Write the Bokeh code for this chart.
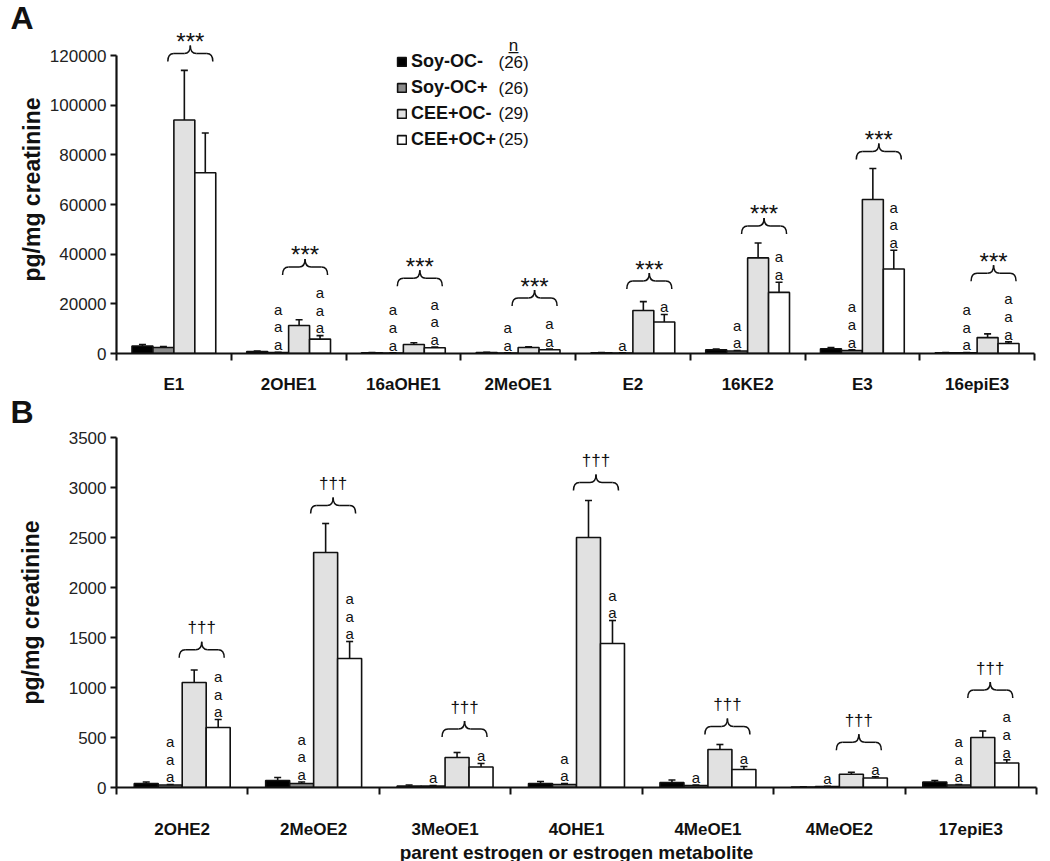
import numpy as np
from bokeh.plotting import figure
from bokeh.layouts import column
from bokeh.models import (FixedTicker, Label, Legend, LegendItem, Range1d,
                          BasicTickFormatter, Title)
from bokeh.core.properties import value
from bokeh.embed import file_html
from bokeh.resources import INLINE

FONT = "Liberation Sans"

# ---------------- data ----------------
group_names = ["Soy-OC-", "Soy-OC+", "CEE+OC-", "CEE+OC+"]
group_n = ["(26)", "(26)", "(29)", "(25)"]
group_colors = ["#000000", "#8c8c8c", "#e1e1e1", "#ffffff"]

# Panel A
cats_A = ["E1", "2OHE1", "16aOHE1", "2MeOE1", "E2", "16KE2", "E3", "16epiE3"]
soy_neg_A = [3000, 800, 300, 400, 300, 1500, 1900, 300]
soy_neg_A_sem = [600, 200, 100, 100, 100, 300, 500, 100]
soy_pos_A = [2400, 400, 200, 200, 200, 1000, 1200, 300]
soy_pos_A_sem = [400, 100, 50, 50, 50, 200, 300, 100]
cee_neg_A = [94000, 11300, 3600, 2400, 17300, 38500, 62000, 6400]
cee_neg_A_sem = [20000, 2300, 700, 300, 3600, 6000, 12500, 1500]
cee_pos_A = [72800, 5800, 2300, 1500, 12700, 24600, 34000, 4000]
cee_pos_A_sem = [16000, 1400, 300, 250, 3000, 4100, 7600, 700]
letters_soy_A = [0, 3, 3, 2, 1, 2, 3, 3]
letters_cee_A = [0, 3, 3, 2, 1, 2, 3, 3]
sig_A = "***"

# Panel B
cats_B = ["2OHE2", "2MeOE2", "3MeOE1", "4OHE1", "4MeOE1", "4MeOE2", "17epiE3"]
soy_neg_B = [40, 70, 15, 40, 50, 5, 55]
soy_neg_B_sem = [15, 30, 10, 20, 25, 3, 15]
soy_pos_B = [25, 40, 15, 30, 20, 10, 25]
soy_pos_B_sem = [5, 15, 5, 10, 5, 3, 5]
cee_neg_B = [1050, 2350, 300, 2500, 380, 133, 500]
cee_neg_B_sem = [125, 290, 50, 370, 50, 20, 65]
cee_pos_B = [600, 1290, 205, 1440, 180, 95, 245]
cee_pos_B_sem = [80, 170, 35, 230, 30, 12, 32]
letters_soy_B = [3, 3, 1, 2, 1, 1, 3]
letters_cee_B = [3, 3, 1, 2, 1, 1, 3]
sig_B = "\u2020\u2020\u2020"

y_ticks_A = list(range(0, 120001, 20000))
y_ticks_B = list(range(0, 3501, 500))
y_label = "pg/mg creatinine"
x_label_B = "parent estrogen or estrogen metabolite"
panel_letters = ["A", "B"]


def make_panel(cats, means, sems, let_soy, let_cee, sig, sig_font, sig_size,
               sig_gap, sig_rise, y_ticks, y_end, fw, fh, btop, bbot, bright,
               xl_standoff, yl_standoff, brace_pad, xlabel=None):
    n = len(cats)
    p = figure(frame_width=fw, frame_height=fh,
               x_range=Range1d(0, n), y_range=Range1d(0, y_end),
               output_backend="svg", toolbar_location=None,
               min_border_left=116, min_border_right=bright,
               min_border_top=btop, min_border_bottom=bbot)
    p.outline_line_color = None
    p.xgrid.visible = False
    p.ygrid.visible = False
    p.background_fill_color = "white"

    xpp = fw / n          # px per x unit
    ypp = fh / y_end      # px per y unit
    bw = 0.1825
    offs = [-1.5 * bw, -0.5 * bw, 0.5 * bw, 1.5 * bw]

    renderers = []
    tops = []
    xs_all = []
    for g in range(4):
        xs = [i + 0.5 + offs[g] for i in range(n)]
        xs_all.append(xs)
        r = p.vbar(x=xs, top=means[g], bottom=0, width=bw,
                   fill_color=group_colors[g], line_color="#111111",
                   line_width=1.6)
        renderers.append(r)
        tops.append([m + s for m, s in zip(means[g], sems[g])])

    # error bars (upper only)
    cw = 3.5 / xpp
    ex0, ey0, ex1, ey1 = [], [], [], []
    for g in range(4):
        for i in range(n):
            x = xs_all[g][i]
            ex0 += [x, x - cw]
            ey0 += [means[g][i], tops[g][i]]
            ex1 += [x, x + cw]
            ey1 += [tops[g][i], tops[g][i]]
    p.segment(x0=ex0, y0=ey0, x1=ex1, y1=ey1, line_color="#111111",
              line_width=1.6)

    # significance letters "a"
    pitch = 17.6
    lx, ly, lt = [], [], []
    letter_tops = [[0.0] * n for _ in range(2)]
    for col, (g, counts) in enumerate([(1, let_soy), (3, let_cee)]):
        for i in range(n):
            base_px = tops[g][i] * ypp
            for k in range(counts[i]):
                cy = base_px + 11.5 + pitch * k
                lx.append(xs_all[g][i])
                ly.append((cy - 3.8) / ypp)
                lt.append("a")
            if counts[i]:
                letter_tops[col][i] = base_px + 11.5 + pitch * (counts[i] - 1) + 5
    p.text(x=lx, y=ly, text=lt, text_font=value(FONT), text_font_size="15px",
           text_align="center", text_baseline="alphabetic", text_color="#111111")

    # braces + significance symbols
    qx0, qy0, qx1, qy1, qcx, qcy = [], [], [], [], [], []
    sx0, sy0, sx1, sy1 = [], [], [], []
    tx, ty, tt = [], [], []
    r_ = 6.0 / xpp
    hw = 22.5 / xpp
    for i in range(n):
        top_px = max(tops[2][i] * ypp, tops[3][i] * ypp,
                     letter_tops[0][i], letter_tops[1][i])
        yb = (top_px + brace_pad) / ypp
        yh = (top_px + brace_pad + 8) / ypp
        yp = (top_px + brace_pad + 16) / ypp
        xc = i + 0.5 + bw - 4.5 / xpp
        xl, xr = xc - hw, xc + hw
        for (a0, b0, a1, b1, c0, c1) in [
            (xl, yb, xl + r_, yh, xl, yh),
            (xc - r_, yh, xc, yp, xc, yh),
            (xc, yp, xc + r_, yh, xc, yh),
            (xr - r_, yh, xr, yb, xr, yh)]:
            qx0.append(a0); qy0.append(b0); qx1.append(a1); qy1.append(b1)
            qcx.append(c0); qcy.append(c1)
        sx0 += [xl + r_, xc + r_]
        sx1 += [xc - r_, xr - r_]
        sy0 += [yh, yh]
        sy1 += [yh, yh]
        tx.append(xc)
        ty.append((top_px + brace_pad + 16 + sig_gap - sig_rise) / ypp)
        tt.append(sig)
    p.quadratic(x0=qx0, y0=qy0, x1=qx1, y1=qy1, cx=qcx, cy=qcy,
                line_color="#111111", line_width=1.5)
    p.segment(x0=sx0, y0=sy0, x1=sx1, y1=sy1, line_color="#111111",
              line_width=1.5)
    p.text(x=tx, y=ty, text=tt, text_font=value(FONT),
           text_font_size=sig_size, text_font_style=sig_font,
           text_align="center", text_baseline="alphabetic",
           text_color="#111111")

    # x axis: labels at centres, ticks at category boundaries
    xa = p.xaxis[0]
    xa.ticker = FixedTicker(ticks=[i + 0.5 for i in range(n)],
                            minor_ticks=list(range(n + 1)))
    xa.major_label_overrides = {i + 0.5: c for i, c in enumerate(cats)}
    xa.major_tick_out = 0
    xa.major_tick_in = 0
    xa.minor_tick_out = 7
    xa.minor_tick_in = 0
    xa.minor_tick_line_width = 2
    xa.minor_tick_line_color = "#111111"
    xa.axis_line_width = 2.2
    xa.axis_line_color = "#111111"
    xa.major_label_standoff = xl_standoff
    xa.major_label_text_font = FONT
    xa.major_label_text_font_style = "bold"
    xa.major_label_text_font_size = "17px"
    xa.major_label_text_color = "#111111"
    if xlabel:
        xa.axis_label = xlabel
        xa.axis_label_text_font = FONT
        xa.axis_label_text_font_style = "bold"
        xa.axis_label_text_font_size = "19px"
        xa.axis_label_text_color = "#111111"
        xa.axis_label_standoff = 0

    ya = p.yaxis[0]
    ya.ticker = FixedTicker(ticks=y_ticks)
    ya.bounds = (0, y_ticks[-1])
    ya.formatter = BasicTickFormatter(use_scientific=False)
    ya.major_tick_out = 6
    ya.major_tick_in = 0
    ya.minor_tick_out = 0
    ya.minor_tick_in = 0
    ya.major_tick_line_width = 2
    ya.major_tick_line_color = "#111111"
    ya.axis_line_width = 2.2
    ya.axis_line_color = "#111111"
    ya.major_label_standoff = 4
    ya.major_label_text_font = FONT
    ya.major_label_text_font_size = "17px"
    ya.major_label_text_color = "#222222"
    ya.axis_label = y_label
    ya.axis_label_text_font = FONT
    ya.axis_label_text_font_style = "bold"
    ya.axis_label_text_font_size = "23px"
    ya.axis_label_text_color = "#111111"
    ya.axis_label_standoff = yl_standoff
    return p, renderers


pA, rA = make_panel(
    cats_A,
    [soy_neg_A, soy_pos_A, cee_neg_A, cee_pos_A],
    [soy_neg_A_sem, soy_pos_A_sem, cee_neg_A_sem, cee_pos_A_sem],
    letters_soy_A, letters_cee_A, sig_A, "normal", "24px", 18, 14,
    y_ticks_A, 120000 * 328 / 298, 918, 328, 25, 76, 16,
    14, 2, 9)

pB, rB = make_panel(
    cats_B,
    [soy_neg_B, soy_pos_B, cee_neg_B, cee_pos_B],
    [soy_neg_B_sem, soy_pos_B_sem, cee_neg_B_sem, cee_pos_B_sem],
    letters_soy_B, letters_cee_B, sig_B, "normal", "17px", 18, 4,
    y_ticks_B, 3500, 920, 350, 8, 74, 14,
    25, 22, 10, xlabel=x_label_B)


def letter_title(text, standoff):
    return Title(text=text, align="left", offset=-106, vertical_align="middle",
                 standoff=standoff, text_font=FONT, text_font_style="bold",
                 text_font_size="32px", text_color="#111111")


# panel letters: "A" above panel A, "B" in the band between the panels
pA.title = letter_title(panel_letters[0], -22)
pA.add_layout(letter_title(panel_letters[1], -8), "below")

# legend in panel A
legend = Legend(items=[LegendItem(label=nm, renderers=[r])
                       for nm, r in zip(group_names, rA)],
                location=(280, 203), orientation="vertical",
                glyph_width=11, glyph_height=11, label_standoff=4,
                spacing=5, padding=0, margin=0,
                border_line_color=None, background_fill_alpha=0,
                label_text_font=FONT, label_text_font_style="bold",
                label_text_font_size="18px", label_text_color="#111111")
pA.add_layout(legend)
for k, nn in enumerate(group_n):
    pA.add_layout(Label(x=382, y=291 - 25.7 * k, x_units="screen",
                        y_units="screen", text=nn, text_font=FONT,
                        text_font_size="17px", text_align="left",
                        text_baseline="middle", text_color="#111111"))
pA.add_layout(Label(x=397, y=308, x_units="screen", y_units="screen",
                    text="n\u0332", text_font=FONT, text_font_size="17px",
                    text_align="center", text_baseline="middle",
                    text_color="#111111"))

layout = column(pA, pB, spacing=0)
open("out.html", "w").write(file_html(layout, INLINE))
